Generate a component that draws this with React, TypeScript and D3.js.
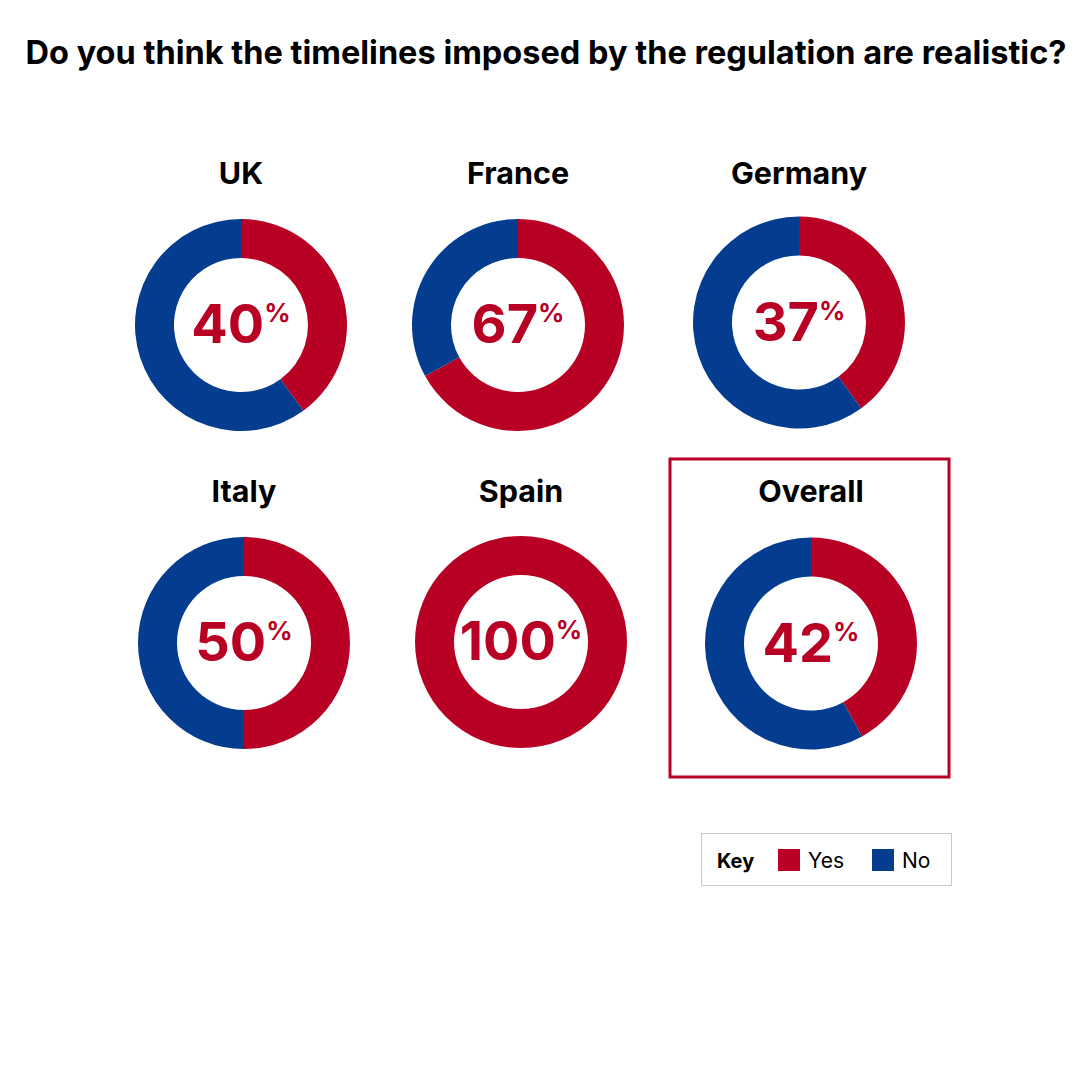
import React from "react";
import * as d3 from "d3";

const countries = ["UK", "France", "Germany", "Italy", "Spain", "Overall"];
// percentages printed in the centre of each donut
const yesLabels = [40, 67, 37, 50, 100, 42];
// "Yes" share as drawn by the arcs (Germany's arc is drawn at ~40%)
const yesShares = [40, 67, 40, 50, 100, 42];
const seriesNames = ["Yes", "No"];
const chartTitle = "Do you think the timelines imposed by the regulation are realistic?";

// layout (not data)
const cellCenters: [number, number][] = [
  [241, 325],
  [518, 325],
  [799, 322.5],
  [244, 643],
  [521, 642],
  [811, 643.5],
];
const labelY = [184, 184, 184, 502, 502, 502];

const RED = "#B80024";
const BLUE = "#043C90";
const FONT = "Inter, 'Noto Sans', sans-serif";

export default function App() {
  const color = d3.scaleOrdinal<string, string>().domain(seriesNames).range([RED, BLUE]);
  const pie = d3
    .pie<{ key: string; value: number }>()
    .sort(null)
    .value((d) => d.value);
  const arc = d3
    .arc<d3.PieArcDatum<{ key: string; value: number }>>()
    .innerRadius(67)
    .outerRadius(106);

  return (
    <svg
      width={1080}
      height={1080}
      style={{ position: "absolute", left: 0, top: 0, background: "#fff" }}
      fontFamily={FONT}
    >
      <rect x={0} y={0} width={1080} height={1080} fill="#fff" />
      <text x={546} y={64} textAnchor="middle" fontSize={32.5} fontWeight={700} fill="#000">
        {chartTitle}
      </text>

      {/* highlight box for Overall */}
      <rect x={670} y={459} width={279} height={318} fill="none" stroke={RED} strokeWidth={3} />

      {countries.map((c, i) => {
        const [cx, cy] = cellCenters[i];
        const data = [
          { key: "Yes", value: yesShares[i] },
          { key: "No", value: 100 - yesShares[i] },
        ];
        const arcs = pie(data).filter((a) => a.value > 0);
        return (
          <g key={c}>
            <text x={cx} y={labelY[i]} textAnchor="middle" fontSize={30.5} fontWeight={700} fill="#000">
              {c}
            </text>
            <g transform={`translate(${cx},${cy})`}>
              {arcs.map((a) => (
                <path key={a.data.key} d={arc(a) || ""} fill={color(a.data.key)} />
              ))}
              <text x={0} y={18} textAnchor="middle" fill={RED} fontWeight={700}>
                <tspan fontSize={54}>{yesLabels[i]}</tspan>
                <tspan fontSize={26} dy={-21}>%</tspan>
              </text>
            </g>
          </g>
        );
      })}

      {/* legend */}
      <g>
        <rect x={701.5} y={833.5} width={250} height={52} fill="#fff" stroke="#c8c8c8" strokeWidth={1} />
        <text x={717} y={868} fontSize={20} fontWeight={700} fill="#000">
          Key
        </text>
        {seriesNames.map((s, i) => (
          <g key={s} transform={`translate(${778 + i * 94},849)`}>
            <rect width={22} height={22} fill={color(s)} />
            <text x={30} y={19} fontSize={21} fill="#000">
              {s}
            </text>
          </g>
        ))}
      </g>
    </svg>
  );
}
